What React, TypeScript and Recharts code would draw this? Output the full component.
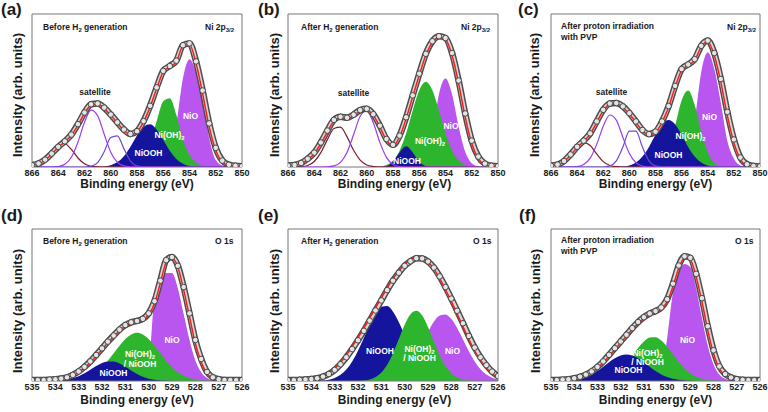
import React from "react";
import { ComposedChart, Area, Line, XAxis, YAxis, ReferenceArea } from "recharts";

const FONT = "'Liberation Sans', Arial, Helvetica, sans-serif";

// binding energy grids (eV)
const niEnergy = [866, 865.5, 865, 864.5, 864, 863.5, 863, 862.5, 862, 861.5, 861, 860.5, 860, 859.5, 859, 858.5, 858, 857.5, 857, 856.5, 856, 855.5, 855, 854.5, 854, 853.5, 853, 852.5, 852, 851.5, 851, 850.5, 850];
const oEnergy = [535, 534.75, 534.5, 534.25, 534, 533.75, 533.5, 533.25, 533, 532.75, 532.5, 532.25, 532, 531.75, 531.5, 531.25, 531, 530.75, 530.5, 530.25, 530, 529.75, 529.5, 529.25, 529, 528.75, 528.5, 528.25, 528, 527.75, 527.5, 527.25, 527, 526.75, 526.5, 526.25, 526];
const niTicks = [866, 864, 862, 860, 858, 856, 854, 852, 850];
const oTicks = [535, 534, 533, 532, 531, 530, 529, 528, 527, 526];
const yTicks = [0, 10, 20, 30, 40, 50, 60, 70, 80, 90, 100];

// (a) Ni 2p3/2, before H2 generation
const aBrown = [0.2, 0.9, 3.3, 8.1, 13.5, 15.2, 11.5, 5.9, 2.1, 0.5, 0.1, 0, 0, 0, 0, 0, 0, 0, 0, 0, 0, 0, 0, 0, 0, 0, 0, 0, 0, 0, 0, 0, 0];
const aSat1 = [0, 0, 0, 0, 0.3, 1.8, 6.4, 16.2, 29.2, 37.2, 33.6, 21.4, 9.7, 3.1, 0.7, 0.1, 0, 0, 0, 0, 0, 0, 0, 0, 0, 0, 0, 0, 0, 0, 0, 0, 0];
const aSat2 = [0, 0, 0, 0, 0, 0, 0, 0, 0, 0.5, 2.9, 10, 19.3, 20.4, 12, 3.9, 0.7, 0.1, 0, 0, 0, 0, 0, 0, 0, 0, 0, 0, 0, 0, 0, 0, 0];
const aNiOOH = [0, 0, 0, 0, 0, 0, 0, 0, 0, 0, 0, 0.4, 1.2, 3.2, 7.1, 13.3, 20.6, 26.3, 27.9, 24.4, 17.7, 10.6, 5.3, 2.2, 0.7, 0.2, 0, 0, 0, 0, 0, 0, 0];
const aNiOH2 = [0, 0, 0, 0, 0, 0, 0, 0, 0, 0, 0, 0, 0, 0, 0, 0.5, 2, 6.5, 16, 30, 43, 45, 34, 18, 8, 3, 1, 0.3, 0, 0, 0, 0, 0];
const aNiO = [0, 0, 0, 0, 0, 0, 0, 0, 0, 0, 0, 0, 0, 0, 0, 0, 0, 0, 0, 0.5, 2, 8, 28, 58, 70.5, 62, 45, 19, 4.5, 1, 0.2, 0, 0];
const aFit = [1, 2, 4.4, 8.3, 13, 16.4, 20.7, 27.3, 35, 40.4, 41, 38.2, 33.8, 28.8, 24, 21.2, 23, 29.5, 39.3, 51.3, 62.2, 65.5, 68.8, 79, 80, 67.7, 48, 26.2, 11, 3.3, 1, 0.5, 0.3];
const aData = [1.2, 2.3, 4.8, 8.8, 13.2, 16.8, 21.2, 28, 35.6, 41, 41.5, 38.8, 34.3, 29.2, 24.5, 21.6, 23.4, 30, 40, 52, 62.8, 66, 69.5, 79.6, 80.8, 69, 50, 28.5, 12.5, 4.2, 1.5, 0.8, 0.5];

// (b) Ni 2p3/2, after H2 generation
const bBrown = [0, 0, 0.2, 1, 3.6, 9.4, 17.9, 25.2, 26, 19.7, 10.9, 4.5, 1.3, 0.3, 0, 0, 0, 0, 0, 0, 0, 0, 0, 0, 0, 0, 0, 0, 0, 0, 0, 0, 0];
const bSat1 = [0, 0, 0, 0, 0, 0, 0.1, 0.7, 3, 9.6, 21.2, 33.2, 36.8, 28.9, 16.1, 6.3, 1.7, 0.3, 0, 0, 0, 0, 0, 0, 0, 0, 0, 0, 0, 0, 0, 0, 0];
const bNiOOH = [0, 0, 0, 0, 0, 0, 0, 0, 0, 0, 0, 0, 0, 0, 0, 0.6, 3.4, 9.5, 13.5, 9.5, 3.4, 0.6, 0, 0, 0, 0, 0, 0, 0, 0, 0, 0, 0];
const bNiOH2 = [0, 0, 0, 0, 0, 0, 0, 0, 0, 0, 0, 0, 0, 0, 0.3, 1.3, 4.2, 10.7, 22, 36.9, 50.2, 55.7, 50.2, 36.9, 22, 10.7, 4.2, 1.3, 0.3, 0, 0, 0, 0];
const bNiO = [0, 0, 0, 0, 0, 0, 0, 0, 0, 0, 0, 0, 0, 0, 0, 0, 0, 0, 0, 0, 1, 4, 20, 47.6, 57.9, 47.6, 26.5, 10, 2.5, 0.4, 0, 0, 0];
const bFit = [0.7, 1, 2.2, 4.8, 8.7, 15.3, 23, 30, 32, 31.5, 33.5, 36.5, 37.3, 33.8, 26.2, 17.5, 13.8, 19.7, 31.7, 45.9, 60, 73, 81.4, 84.7, 83.4, 73, 54.6, 32.8, 15.3, 5.5, 1.5, 0.5, 0.3];
const bData = [0.9, 1.3, 2.6, 5.4, 9.4, 16, 23.8, 30.8, 32.8, 32.2, 34.2, 37.2, 38, 34.5, 27, 18.3, 14.5, 20.5, 32.5, 46.8, 61, 74, 82.2, 85.5, 84.3, 74.5, 56.5, 35, 17.2, 6.8, 2.2, 0.8, 0.5];

// (c) Ni 2p3/2, after proton irradiation with PVP
const cBrown = [0.1, 0.5, 2.2, 6.2, 12.1, 15.9, 14.1, 8.5, 3.5, 1, 0.2, 0, 0, 0, 0, 0, 0, 0, 0, 0, 0, 0, 0, 0, 0, 0, 0, 0, 0, 0, 0, 0, 0];
const cSat1 = [0, 0, 0, 0, 0.3, 1.6, 5.8, 14.8, 26.7, 34, 30.6, 19.5, 8.8, 2.8, 0.6, 0.1, 0, 0, 0, 0, 0, 0, 0, 0, 0, 0, 0, 0, 0, 0, 0, 0, 0];
const cSat2 = [0, 0, 0, 0, 0, 0, 0, 0, 0, 0.7, 4, 13, 23.4, 23.4, 13, 4, 0.7, 0.1, 0, 0, 0, 0, 0, 0, 0, 0, 0, 0, 0, 0, 0, 0, 0];
const cNiOOH = [0, 0, 0, 0, 0, 0, 0, 0, 0, 0, 0, 0.3, 1, 2.9, 6.8, 13.1, 21, 27.9, 30.7, 27.9, 21, 13.1, 6.8, 2.9, 1, 0.3, 0, 0, 0, 0, 0, 0, 0];
const cNiOH2 = [0, 0, 0, 0, 0, 0, 0, 0, 0, 0, 0, 0, 0, 0, 0, 0, 0.8, 3.6, 11.7, 26.8, 43.5, 50, 40.5, 23.3, 9.5, 2.7, 0.6, 0, 0, 0, 0, 0, 0];
const cNiO = [0, 0, 0, 0, 0, 0, 0, 0, 0, 0, 0, 0, 0, 0, 0, 0, 0, 0, 0, 0.5, 2, 8, 30, 62, 75, 64, 42, 17, 5.5, 1, 0.2, 0, 0];
const cFit = [0.7, 1.3, 3.5, 7.7, 12.7, 16.7, 21.5, 29.2, 36.8, 40.8, 41.2, 39, 34.6, 29.2, 23.7, 21, 22.6, 29.2, 39, 52.2, 63.2, 66.4, 69.7, 78.5, 81.8, 73, 55.5, 33.6, 16, 5, 1.1, 0.4, 0.2];
const cData = [0.9, 1.6, 3.9, 8.2, 13.2, 17.2, 22, 29.8, 37.4, 41.5, 41.8, 39.6, 35.2, 29.8, 24.2, 21.5, 23.1, 29.8, 39.8, 53, 64, 67, 70.5, 79.2, 82.6, 74.5, 57.5, 36, 18, 6.2, 1.8, 0.7, 0.4];

// (d) O 1s, before H2 generation
const dNiOOH = [0, 0, 0, 0, 0.1, 0.4, 0.9, 1.8, 3.1, 5.1, 7.4, 9.8, 11.8, 12.9, 12.8, 11.5, 9.3, 6.9, 4.6, 2.8, 1.5, 0.8, 0.4, 0.1, 0, 0, 0, 0, 0, 0, 0, 0, 0, 0, 0, 0, 0];
const dNiOH2 = [0, 0, 0, 0, 0, 0, 0, 0.5, 1, 1.9, 3.5, 5.8, 9.1, 13.3, 18.2, 23.2, 27.6, 30.6, 31.7, 30.6, 27.6, 23.2, 18.2, 13.3, 9.1, 5.8, 3.5, 1.9, 1, 0.4, 0.1, 0, 0, 0, 0, 0, 0];
const dNiO = [0, 0, 0, 0, 0, 0, 0, 0, 0, 0, 0, 0, 0, 0, 0, 0, 0, 0, 0.3, 1, 10, 55, 67, 71, 71, 61, 44, 27, 13.5, 5.7, 2, 0.5, 0.1, 0, 0, 0, 0];
const dFit = [0.4, 0.4, 0.4, 0.7, 0.9, 1.3, 2, 3.5, 5.7, 8.6, 12.1, 16.3, 20.7, 25.1, 29.1, 33, 36.1, 37.9, 38.8, 40.1, 43.4, 51.1, 64.3, 78, 81, 75, 59.9, 42.3, 24.7, 12.6, 4.8, 1.8, 0.9, 0.5, 0.4, 0.4, 0.4];
const dData = [0.6, 0.6, 0.6, 0.9, 1.1, 1.6, 2.4, 4, 6.3, 9.3, 12.9, 17.1, 21.5, 25.9, 29.9, 33.8, 36.8, 38.6, 39.5, 40.9, 44.5, 52.5, 66, 79.5, 81.5, 75.8, 61.8, 44.5, 27, 14.5, 6, 2.4, 1.2, 0.7, 0.6, 0.6, 0.6];

// (e) O 1s, after H2 generation
const eNiOOH = [0, 0, 0, 0, 0, 0.15, 0.4, 0.9, 2, 4.1, 7.5, 12.8, 19.9, 28.3, 37, 44.4, 48.8, 49.3, 45.6, 38.7, 30.1, 21.5, 14, 8.4, 4.6, 2.3, 1.1, 0.4, 0.2, 0, 0, 0, 0, 0, 0, 0, 0];
const eNiOH2 = [0, 0, 0, 0, 0, 0, 0, 0, 0, 0, 0, 0, 0, 0.3, 1, 2.6, 5.6, 10.7, 18.3, 27.6, 37, 43.9, 46.2, 43.1, 35.6, 26.1, 16.9, 9.8, 5, 2.3, 0.9, 0.3, 0, 0, 0, 0, 0];
const eNiO = [0, 0, 0, 0, 0, 0, 0, 0, 0, 0, 0, 0, 0, 0, 0, 0, 0.3, 0.8, 1.7, 3.4, 6.4, 10.9, 17.1, 24.5, 32.2, 39, 43.1, 43.8, 40.8, 34.9, 27.3, 19.6, 12.9, 7.8, 4.3, 2.2, 1];
const eFit = [0.4, 0.4, 0.7, 0.9, 1.3, 2, 3.3, 5.3, 8.2, 12.2, 17, 22.6, 28.5, 34.7, 41.4, 48, 54.6, 61.3, 67.3, 72.3, 76.8, 79.6, 81.5, 80.8, 78.2, 73.8, 67.5, 60.2, 52.4, 44.2, 35.8, 27.4, 19.9, 13.7, 8.8, 4.9, 2.2];
const eData = [0.6, 0.6, 0.8, 1, 1.3, 1.8, 2.9, 4.6, 7.3, 11, 15.6, 21, 26.8, 33, 39.7, 46.4, 53, 59.8, 66, 71.2, 75.8, 78.8, 80.8, 80.6, 78.6, 74.6, 68.8, 61.8, 54.2, 46.2, 38, 29.6, 22, 15.6, 10.4, 6.2, 3.2];

// (f) O 1s, after proton irradiation with PVP
const fNiOOH = [0, 0, 0.1, 0.4, 0.8, 1.5, 2.6, 4.3, 6.6, 9.4, 12.3, 14.9, 16.7, 17.4, 16.7, 14.9, 12.3, 9.4, 6.6, 4.3, 2.6, 1.5, 0.8, 0.4, 0.2, 0, 0, 0, 0, 0, 0, 0, 0, 0, 0, 0, 0];
const fNiOH2 = [0, 0, 0, 0, 0, 0, 0, 0, 0.3, 1.2, 2.4, 4.4, 7.5, 11.6, 16.6, 21.7, 26, 28.6, 28.8, 26.6, 22.6, 17.6, 12.6, 8.2, 4.9, 2.7, 1.4, 0.6, 0.3, 0, 0, 0, 0, 0, 0, 0, 0];
const fNiO = [0, 0, 0, 0, 0, 0, 0, 0, 0, 0, 0, 0, 0, 0, 0, 0, 0, 0, 0.3, 5, 28, 58, 72, 77, 75, 61, 41.4, 23.3, 10.9, 4.2, 1.4, 0.4, 0.1, 0, 0, 0, 0];
const fFit = [0.4, 0.4, 0.7, 0.9, 1.5, 2.4, 3.7, 5.7, 8.6, 12.1, 16.3, 20.7, 25.1, 29.5, 33.9, 37.9, 41, 43.4, 44.9, 47.1, 52.2, 62.1, 74.2, 80.8, 79.7, 68.7, 52.2, 33.5, 18.1, 8.1, 3.7, 1.8, 0.9, 0.6, 0.4, 0.4, 0.4];
const fData = [0.6, 0.6, 0.9, 1.1, 1.8, 2.8, 4.2, 6.3, 9.3, 12.9, 17.2, 21.6, 26, 30.4, 34.8, 38.8, 42, 44.4, 46, 48.4, 53.8, 64, 76, 82, 81, 70.5, 54.5, 36, 20.2, 9.6, 4.6, 2.3, 1.2, 0.8, 0.6, 0.6, 0.6];

const COLORS = {
  brown: "#7d1c2c",
  sat1: "#9b3cf0",
  sat2: "#6f47d6",
  niooh: "#14149c",
  nioh2: "#2eb52e",
  nio: "#b856ef",
  fit: "#ff1a1a",
};

type Peak = { key: string; color: string; kind: "area" | "line" };

const buildRows = (energy: number[], series: Record<string, number[]>) =>
  energy.map((e, i) => {
    const row: Record<string, number> = { e };
    Object.keys(series).forEach((k) => (row[k] = series[k][i]));
    return row;
  });

function Panel({ left, top, margin, rows, domain, ticks, peaks }: any) {
  return (
    <div style={{ position: "absolute", left, top }}>
      <ComposedChart width={256} height={206} data={rows} margin={margin}>
        <XAxis
          dataKey="e"
          type="number"
          domain={domain}
          reversed
          ticks={ticks}
          interval={0}
          allowDataOverflow
          height={30}
          axisLine={false}
          tickLine={false}
          tickSize={0}
          tickMargin={3}
          tick={{ fontSize: 9, fontWeight: 700, fill: "#1a1a1a", fontFamily: FONT }}
        />
        <YAxis
          type="number"
          domain={[0, 100]}
          ticks={yTicks}
          width={0}
          mirror
          allowDataOverflow
          axisLine={false}
          tickSize={3}
          tickFormatter={() => ""}
          tickLine={{ stroke: "#777" }}
        />
        {peaks
          .filter((p: Peak) => p.kind === "area")
          .map((p: Peak) => (
            <Area key={p.key} type="monotone" dataKey={p.key} fill={p.color} fillOpacity={1} stroke="none" isAnimationActive={false} dot={false} activeDot={false} />
          ))}
        {peaks
          .filter((p: Peak) => p.kind === "line")
          .map((p: Peak) => (
            <Line key={p.key} type="monotone" dataKey={p.key} stroke={p.color} strokeWidth={1.2} dot={false} activeDot={false} isAnimationActive={false} />
          ))}
        <Line type="monotone" dataKey="data" stroke="#4d4d4d" strokeWidth={6.5} dot={false} activeDot={false} isAnimationActive={false} />
        <Line type="monotone" dataKey="data" stroke="#d9d9d9" strokeWidth={3.5} dot={{ r: 2.8, stroke: "#3a3a3a", strokeWidth: 0.9, fill: "#e4e4e4" }} activeDot={false} isAnimationActive={false} />
        <Line type="monotone" dataKey="fit" stroke={COLORS.fit} strokeWidth={1.5} dot={false} activeDot={false} isAnimationActive={false} />
        <ReferenceArea x1={domain[0]} x2={domain[1]} y1={0} y2={100} fill="none" stroke="#777" strokeWidth={1} ifOverflow="extendDomain" />
      </ComposedChart>
    </div>
  );
}

function Note({ x, y, children, size = 8.5, color = "#1a1a1a", center = false }: any) {
  return (
    <div
      style={{
        position: "absolute",
        left: x,
        top: y,
        transform: center ? "translate(-50%, -50%)" : "translateY(-50%)",
        fontFamily: FONT,
        fontWeight: 700,
        fontSize: size,
        color,
        whiteSpace: "nowrap",
        lineHeight: 1.15,
        textAlign: "center",
      }}
    >
      {children}
    </div>
  );
}

const Sub = ({ children }: any) => (
  <sub style={{ fontSize: "0.7em", verticalAlign: "-0.3em", lineHeight: 0 }}>{children}</sub>
);

function YTitle({ x, y }: any) {
  return (
    <div
      style={{
        position: "absolute",
        left: x,
        top: y,
        transform: "translate(-50%, -50%) rotate(-90deg)",
        fontFamily: FONT,
        fontWeight: 700,
        fontSize: 13,
        color: "#1a1a1a",
        whiteSpace: "nowrap",
      }}
    >
      Intensity (arb. units)
    </div>
  );
}

const niPeaks = (withSat2: boolean): Peak[] => [
  { key: "nio", color: COLORS.nio, kind: "area" },
  { key: "nioh2", color: COLORS.nioh2, kind: "area" },
  { key: "niooh", color: COLORS.niooh, kind: "area" },
  { key: "brown", color: COLORS.brown, kind: "line" },
  { key: "sat1", color: COLORS.sat1, kind: "line" },
  ...(withSat2 ? [{ key: "sat2", color: COLORS.sat2, kind: "line" as const }] : []),
];

const oPeaks = (greenTop: boolean): Peak[] =>
  greenTop
    ? [
        { key: "nio", color: COLORS.nio, kind: "area" },
        { key: "niooh", color: COLORS.niooh, kind: "area" },
        { key: "nioh2", color: COLORS.nioh2, kind: "area" },
      ]
    : [
        { key: "nio", color: COLORS.nio, kind: "area" },
        { key: "nioh2", color: COLORS.nioh2, kind: "area" },
        { key: "niooh", color: COLORS.niooh, kind: "area" },
      ];

export default function App() {
  const rowsA = buildRows(niEnergy, { brown: aBrown, sat1: aSat1, sat2: aSat2, niooh: aNiOOH, nioh2: aNiOH2, nio: aNiO, fit: aFit, data: aData });
  const rowsB = buildRows(niEnergy, { brown: bBrown, sat1: bSat1, niooh: bNiOOH, nioh2: bNiOH2, nio: bNiO, fit: bFit, data: bData });
  const rowsC = buildRows(niEnergy, { brown: cBrown, sat1: cSat1, sat2: cSat2, niooh: cNiOOH, nioh2: cNiOH2, nio: cNiO, fit: cFit, data: cData });
  const rowsD = buildRows(oEnergy, { niooh: dNiOOH, nioh2: dNiOH2, nio: dNiO, fit: dFit, data: dData });
  const rowsE = buildRows(oEnergy, { niooh: eNiOOH, nioh2: eNiOH2, nio: eNiO, fit: eFit, data: eData });
  const rowsF = buildRows(oEnergy, { niooh: fNiOOH, nioh2: fNiOH2, nio: fNiO, fit: fFit, data: fData });

  const top1 = { top: 14, bottom: 9 };
  const top2 = { top: 23, bottom: 1 };
  const colA = { left: 32, right: 14 };
  const colB = { left: 32, right: 14 };
  const colC = { left: 39, right: 8 };

  const white = "#ffffff";

  return (
    <div style={{ position: "absolute", left: 0, top: 0, width: 768, height: 412, background: "#fff", overflow: "hidden" }}>
      <Panel left={0} top={0} margin={{ ...top1, ...colA }} rows={rowsA} domain={[850, 866]} ticks={niTicks} peaks={niPeaks(true)} />
      <Panel left={256} top={0} margin={{ ...top1, ...colB }} rows={rowsB} domain={[850, 866]} ticks={niTicks} peaks={niPeaks(false)} />
      <Panel left={512} top={0} margin={{ ...top1, ...colC }} rows={rowsC} domain={[850, 866]} ticks={niTicks} peaks={niPeaks(true)} />
      <Panel left={0} top={206} margin={{ ...top2, ...colA }} rows={rowsD} domain={[526, 535]} ticks={oTicks} peaks={oPeaks(false)} />
      <Panel left={256} top={206} margin={{ ...top2, ...colB }} rows={rowsE} domain={[526, 535]} ticks={oTicks} peaks={oPeaks(true)} />
      <Panel left={512} top={206} margin={{ ...top2, ...colC }} rows={rowsF} domain={[526, 535]} ticks={oTicks} peaks={oPeaks(false)} />

      {/* panel letters */}
      <Note x={1} y={10} size={17}>(a)</Note>
      <Note x={258} y={10} size={17}>(b)</Note>
      <Note x={518} y={10} size={17}>(c)</Note>
      <Note x={1} y={216} size={17}>(d)</Note>
      <Note x={258} y={216} size={17}>(e)</Note>
      <Note x={519} y={216} size={17}>(f)</Note>

      {/* axis titles */}
      {[137, 394.5, 655.5].map((cx) => (
        <React.Fragment key={cx}>
          <Note x={cx} y={185} size={12} center>Binding energy (eV)</Note>
          <Note x={cx} y={401} size={12} center>Binding energy (eV)</Note>
        </React.Fragment>
      ))}
      <YTitle x={17} y={95} />
      <YTitle x={274} y={95} />
      <YTitle x={534} y={95} />
      <YTitle x={17} y={311} />
      <YTitle x={274} y={311} />
      <YTitle x={534.5} y={311} />

      {/* in-plot headers */}
      <Note x={43} y={27.5}>Before H<Sub>2</Sub> generation</Note>
      <Note x={205} y={27.5}>Ni 2p<Sub>3/2</Sub></Note>
      <Note x={301} y={27.5}>After H<Sub>2</Sub> generation</Note>
      <Note x={461} y={27.5}>Ni 2p<Sub>3/2</Sub></Note>
      <Note x={561} y={27}>After proton irradiation</Note>
      <Note x={561} y={37.5}>with PVP</Note>
      <Note x={727} y={27.5}>Ni 2p<Sub>3/2</Sub></Note>
      <Note x={43} y={242}>Before H<Sub>2</Sub> generation</Note>
      <Note x={215} y={242}>O 1s</Note>
      <Note x={301} y={242}>After H<Sub>2</Sub> generation</Note>
      <Note x={473} y={242}>O 1s</Note>
      <Note x={561} y={241}>After proton irradiation</Note>
      <Note x={561} y={251.5}>with PVP</Note>
      <Note x={735} y={242}>O 1s</Note>

      {/* satellite labels */}
      <Note x={95} y={93} center>satellite</Note>
      <Note x={353.5} y={94} center>satellite</Note>
      <Note x={611.5} y={93} center>satellite</Note>

      {/* component labels */}
      <Note x={148.5} y={154} color={white} center>NiOOH</Note>
      <Note x={169.5} y={136} color={white} center>Ni(OH)<Sub>2</Sub></Note>
      <Note x={190.5} y={117} color={white} center>NiO</Note>

      <Note x={407} y={162} color={white} center>NiOOH</Note>
      <Note x={430} y={142} color={white} center>Ni(OH)<Sub>2</Sub></Note>
      <Note x={451} y={127} color={white} center>NiO</Note>

      <Note x={668.5} y={156} color={white} center>NiOOH</Note>
      <Note x={690.5} y={137} color={white} center>Ni(OH)<Sub>2</Sub></Note>
      <Note x={709.5} y={118} color={white} center>NiO</Note>

      <Note x={113.5} y={374} color={white} center>NiOOH</Note>
      <Note x={140} y={360} color={white} center>Ni(OH)<Sub>2</Sub><br />/ NiOOH</Note>
      <Note x={172} y={341} color={white} center>NiO</Note>

      <Note x={380} y={352} color={white} center>NiOOH</Note>
      <Note x={419.5} y={354.5} color={white} center>Ni(OH)<Sub>2</Sub><br />/ NiOOH</Note>
      <Note x={452.5} y={352} color={white} center>NiO</Note>

      <Note x={628.5} y={371} color={white} center>NiOOH</Note>
      <Note x={647.5} y={358.5} color={white} center>Ni(OH)<Sub>2</Sub><br />/ NiOOH</Note>
      <Note x={687.5} y={341} color={white} center>NiO</Note>
    </div>
  );
}
